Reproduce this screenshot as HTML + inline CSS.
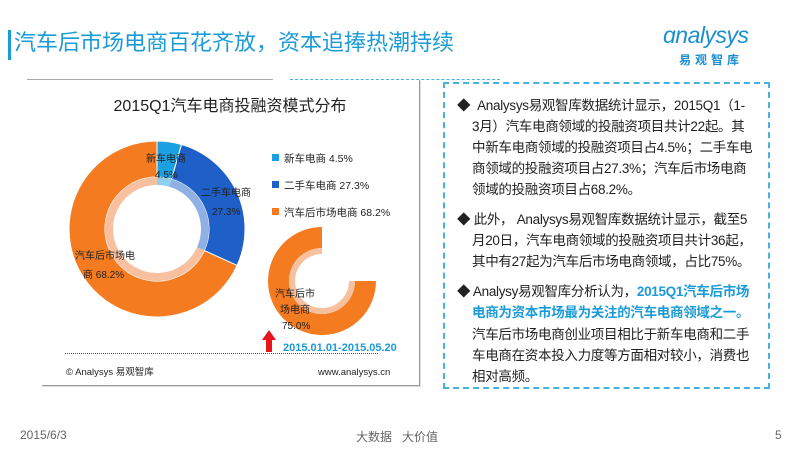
<!DOCTYPE html>
<html><head><meta charset="utf-8">
<style>
body{margin:0;width:800px;height:450px;background:#fff;position:relative;overflow:hidden;font-family:"Liberation Sans","Noto Sans CJK SC",sans-serif;}
.abs{position:absolute;}
#textbox div.l{position:absolute;left:12px;font-size:13.5px;line-height:21px;color:#222;white-space:nowrap;letter-spacing:-0.3px}
</style></head><body>
<div class="abs" style="left:8px;top:30px;width:3px;height:30px;background:#1a9bd7"></div>
<div class="abs" style="left:14px;top:25px;font-size:22px;color:#1a9bd7;white-space:nowrap">汽车后市场电商百花齐放，资本追捧热潮持续</div>
<div class="abs" style="left:655px;top:18px;width:120px;height:50px">
  <div class="abs" style="left:8px;top:4px;font-size:23px;font-style:italic;color:#1a8fd0;letter-spacing:-0.5px">ɑnalysys</div>
  <div class="abs" style="left:24px;top:33px;font-size:12px;font-weight:bold;color:#1a8fd0;letter-spacing:4px">易观智库</div>
</div>
<div class="abs" style="left:27px;top:79px;width:246px;height:1px;background:#aaa"></div>
<div class="abs" style="left:290px;top:79px;width:210px;border-top:1px dashed #45b3e0"></div>

<div class="abs" style="left:42px;top:80px;width:377px;height:305px;border:1px solid #999;border-top:none;border-left:none;box-shadow:1px 1px 0 #ddd"></div>
<svg class="abs" id="chart" style="left:0;top:0" width="440" height="400"></svg>

<div class="abs" id="textbox" style="left:443px;top:82px;width:323px;height:303px;border:2px dashed #45b3e0">
<div>
<div class="l" style="top:11px">◆ &nbsp;Analysys易观智库数据统计显示，2015Q1（1-</div>
<div class="l" style="top:32px;left:27px">3月）汽车电商领域的投融资项目共计22起。其</div>
<div class="l" style="top:53px;left:27px">中新车电商领域的投融资项目占4.5%；二手车电</div>
<div class="l" style="top:74px;left:27px">商领域的投融资项目占27.3%；汽车后市场电商</div>
<div class="l" style="top:95px;left:27px">领域的投融资项目占68.2%。</div>
</div>
<div>
<div class="l" style="top:125px">◆ 此外， Analysys易观智库数据统计显示，截至5</div>
<div class="l" style="top:146px;left:27px">月20日，汽车电商领域的投融资项目共计36起，</div>
<div class="l" style="top:167px;left:27px">其中有27起为汽车后市场电商领域，占比75%。</div>
</div>
<div>
<div class="l" style="top:197px">◆ Analysy易观智库分析认为，<b style="color:#1a9bd7">2015Q1汽车后市场</b></div>
<div class="l" style="top:218px;left:27px"><b style="color:#1a9bd7">电商为资本市场最为关注的汽车电商领域之一。</b></div>
<div class="l" style="top:240px;left:27px">汽车后市场电商创业项目相比于新车电商和二手</div>
<div class="l" style="top:261px;left:27px">车电商在资本投入力度等方面相对较小，消费也</div>
<div class="l" style="top:282px;left:27px">相对高频。</div>
</div>
</div>

<div class="abs" style="left:20px;top:428px;font-size:12px;color:#666">2015/6/3</div>
<div class="abs" style="left:356px;top:428px;font-size:12px;color:#666">大数据 &nbsp;&nbsp;大价值</div>
<div class="abs" style="left:775px;top:428px;font-size:12px;color:#666">5</div>

<script>
const categories=["新车电商","二手车电商","汽车后市场电商"];
const shares=[4.5,27.3,68.2];
const colors=["#1ba1e2","#1e5fc8","#f47b20"];
const lights=["#8fd0f0","#8fb0e4","#f9c0a0"];
const secondLabel="汽车后市场电商";
const secondShare=75.0;
const NS="http://www.w3.org/2000/svg";
const svg=document.getElementById("chart");
function mk(t,a,p){const e=document.createElementNS(NS,t);for(const k in a)e.setAttribute(k,a[k]);(p||svg).appendChild(e);return e;}
function arc(cx,cy,r0,r1,a0,a1){
 const p=(r,a)=>[cx+r*Math.sin(a),cy-r*Math.cos(a)];
 const L=(a1-a0)>Math.PI?1:0;
 const [x0,y0]=p(r1,a0),[x1,y1]=p(r1,a1),[x2,y2]=p(r0,a1),[x3,y3]=p(r0,a0);
 return `M${x0},${y0}A${r1},${r1} 0 ${L} 1 ${x1},${y1}L${x2},${y2}A${r0},${r0} 0 ${L} 0 ${x3},${y3}Z`;}
function txt(x,y,s,o){const e=mk("text",Object.assign({x:x,y:y,"font-size":10,fill:"#222"},o||{}));e.textContent=s;return e;}
const title=txt(230,111,"2015Q1汽车电商投融资模式分布",{"font-size":16,"text-anchor":"middle"});


const cx=157,cy=229,R=88,Rl=52,Ri=44;
const total=shares.reduce((a,b)=>a+b,0);
let a=0;
shares.forEach((v,i)=>{
 const a1=a+v/total*2*Math.PI;
 const s=mk("path",{d:arc(cx,cy,Rl,R,a,a1),fill:colors[i],stroke:"#fff","stroke-width":1});
 
 
 const l=mk("path",{d:arc(cx,cy,Ri,Rl,a,a1),fill:lights[i]});
 
 
 a=a1;});
txt(146,162,categories[0]);txt(155,178,shares[0]+"%");
txt(201,196,"二手车电商");txt(212,215,shares[1]+"%");
txt(75,259,"汽车后市场电");txt(83,278,"商  "+shares[2]+"%");
categories.forEach((c,i)=>{
 const y=162+i*27;
 const r=mk("rect",{x:272,y:y-8,width:7,height:7,fill:colors[i]});
 
 
 const t=txt(284,y,c+"  "+shares[i]+"%",{"font-size":10.5});
 
 });
const cx2=322,cy2=281,R2=54,Rl2=33,Ri2=27;
const end=2*Math.PI,start=end-secondShare/100*2*Math.PI;
const s2=mk("path",{d:arc(cx2,cy2,Rl2,R2,start,end),fill:colors[2]});


mk("path",{d:arc(cx2,cy2,Ri2,Rl2,start,end),fill:lights[2]});
txt(275,297,secondLabel.slice(0,4));txt(280,313,secondLabel.slice(4));txt(282,329,secondShare.toFixed(1)+"%");
const ar=mk("path",{d:"M262,340 L269,330 L276,340 L272,340 L272,352 L266,352 L266,340 Z",fill:"#e8141b"});


const dt=txt(283,351,"2015.01.01-2015.05.20",{"font-size":11,"font-weight":"bold",fill:"#1a9bd7"});


mk("line",{x1:65,y1:353.5,x2:378,y2:353.5,stroke:"#555","stroke-dasharray":"1,1"});
txt(66,375,"© Analysys 易观智库",{"font-size":9.5});
txt(318,375,"www.analysys.cn",{"font-size":9.5});
</script>
</body></html>
